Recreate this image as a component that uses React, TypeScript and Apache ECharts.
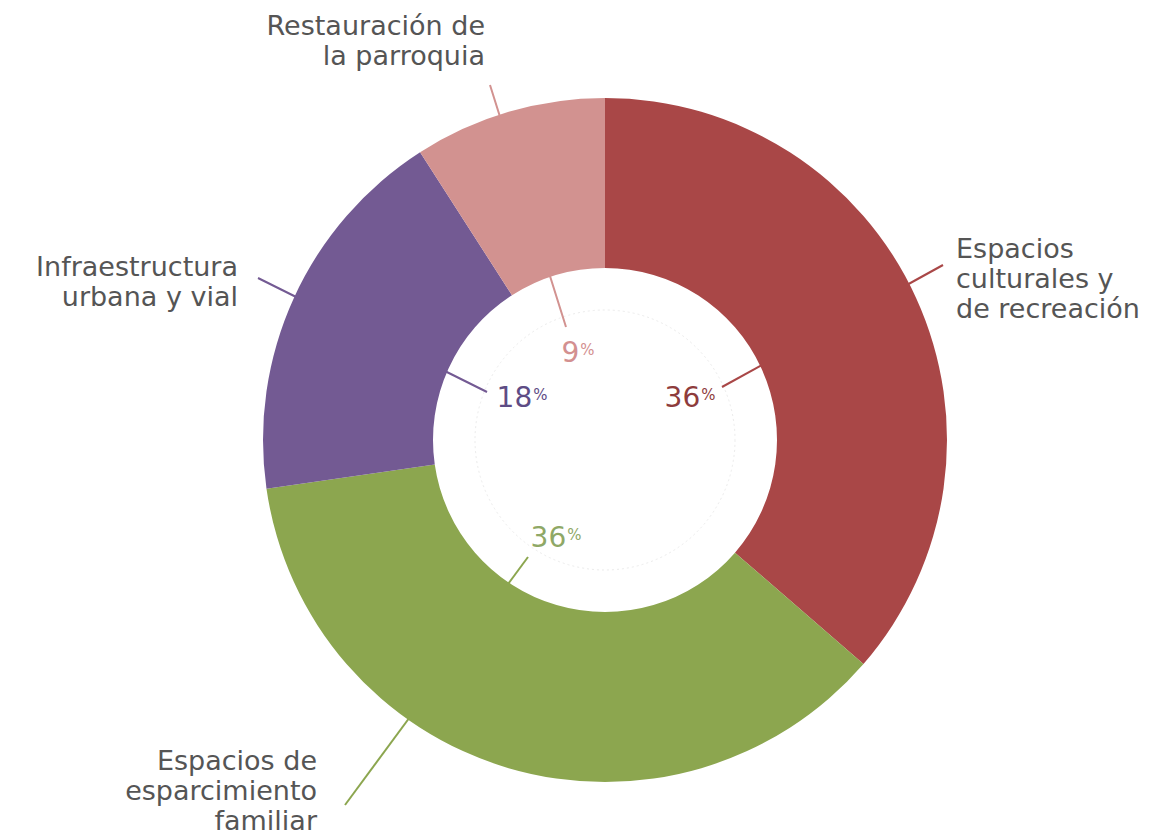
import React, { useEffect, useRef } from "react";
import * as echarts from "echarts";

// ---- data ----
const categories = [
  "Espacios\nculturales y\nde recreación",
  "Espacios de\nesparcimiento\nfamiliar",
  "Infraestructura\nurbana y vial",
  "Restauración de\nla parroquia",
];
const percentValues = [36, 36, 18, 9];
const sliceColors = ["#A94747", "#8CA64F", "#735A93", "#D29290"];
const innerTextColors = ["#8E3C3C", "#8FA866", "#5E4C85", "#D39090"];

// ---- layout (label anchors, not data) ----
const CENTER: [number, number] = [605, 440];
const outerLabelPos: { x: number; y: number; align: string }[] = [
  { x: 956, y: 278, align: "left" },
  { x: 317, y: 790, align: "right" },
  { x: 238, y: 281, align: "right" },
  { x: 485, y: 40, align: "right" },
];
const innerLabelPos: { x: number; y: number }[] = [
  { x: 690, y: 397 },
  { x: 556, y: 537 },
  { x: 522, y: 397 },
  { x: 578, y: 352 },
];
const lineEnds: { inner: [number, number]; outer: [number, number] }[] = [
  { inner: [722, 387], outer: [943, 265] },
  { inner: [528, 557], outer: [345, 805] },
  { inner: [487, 392], outer: [258, 278] },
  { inner: [566, 327], outer: [490, 85] },
];

export default function App() {
  const ref = useRef<HTMLDivElement>(null);
  useEffect(() => {
    document.body.style.margin = "0";
    if (!ref.current) return;
    const chart = echarts.init(ref.current, null, { renderer: "svg" });
    const data = categories.map((name, i) => ({
      name,
      value: percentValues[i],
      itemStyle: { color: sliceColors[i] },
    }));
    chart.setOption({
      animation: false,
      backgroundColor: "#ffffff",
      graphic: [
        {
          type: "circle",
          z: 1,
          shape: { cx: CENTER[0], cy: CENTER[1], r: 130 },
          style: { fill: "none", stroke: "#ececec", lineWidth: 1, lineDash: [2, 3] },
          silent: true,
        },
      ],
      series: [
        {
          type: "pie",
          center: CENTER,
          radius: [172, 342],
          startAngle: 90,
          clockwise: true,
          avoidLabelOverlap: false,
          silent: true,
          data,
          itemStyle: { borderWidth: 0 },
          label: {
            show: true,
            position: "outside",
            formatter: "{b}",
            fontFamily: "DejaVu Sans",
            fontSize: 27,
            lineHeight: 30,
            color: "#555555",
          },
          labelLine: {
            show: true,
            length: 10,
            length2: 10,
            lineStyle: { width: 2 },
          },
          labelLayout: (params: any) => {
            const i = params.dataIndex;
            const p = outerLabelPos[i];
            const e = lineEnds[i];
            const mid: [number, number] = [
              (e.inner[0] + e.outer[0]) / 2,
              (e.inner[1] + e.outer[1]) / 2,
            ];
            return {
              x: p.x,
              y: p.y,
              align: p.align,
              verticalAlign: "middle",
              labelLinePoints: [e.inner, mid, e.outer],
            };
          },
        },
        {
          type: "pie",
          center: CENTER,
          radius: [0, 160],
          startAngle: 90,
          clockwise: true,
          silent: true,
          z: 3,
          data: data.map((d, i) => ({
            ...d,
            itemStyle: { color: "rgba(0,0,0,0)" },
            label: { color: innerTextColors[i], rich: { v: { color: innerTextColors[i] } } },
          })),
          emphasis: { disabled: true },
          label: {
            show: true,
            position: "inside",
            formatter: (p: any) => `{v|${percentValues[p.dataIndex]}}{p${p.dataIndex}|%}`,
            rich: Object.assign(
              {
                v: { fontFamily: "DejaVu Sans", fontSize: 28 },
              },
              ...innerTextColors.map((c, i) => ({
                [`p${i}`]: { fontFamily: "DejaVu Sans", fontSize: 15, color: c, padding: [0, 0, 4, 1] },
              }))
            ),
          },
          labelLine: { show: false },
          labelLayout: (params: any) => {
            const p = innerLabelPos[params.dataIndex];
            return { x: p.x, y: p.y, align: "center", verticalAlign: "middle" };
          },
        },
      ],
    });
    return () => chart.dispose();
  }, []);
  return <div ref={ref} style={{ width: 1161, height: 838 }} />;
}
